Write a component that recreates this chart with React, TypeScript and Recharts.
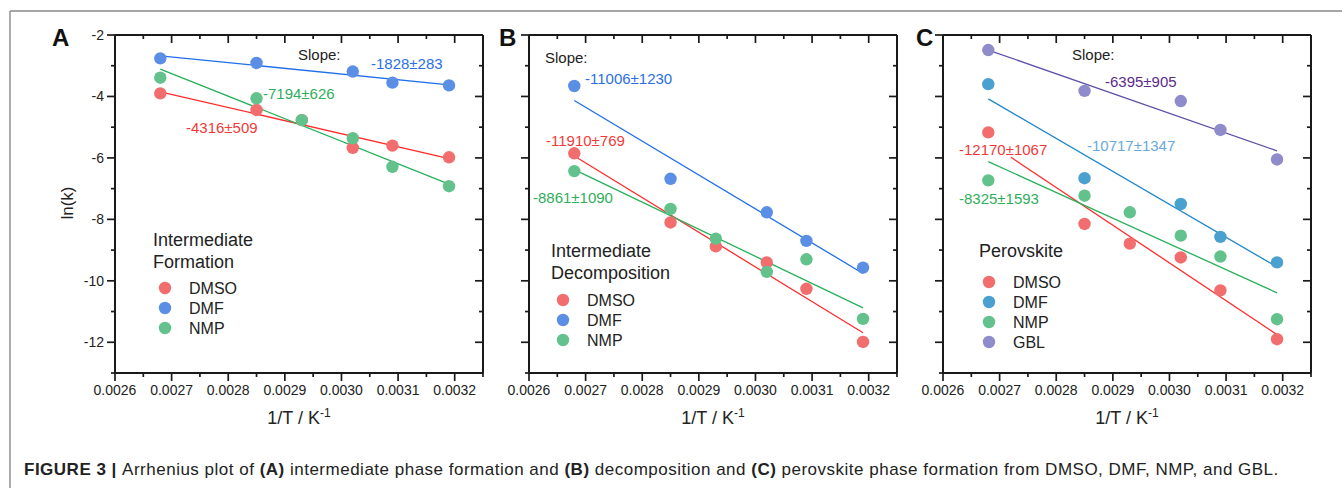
import React from "react";
import { ComposedChart, XAxis, YAxis, Line, Scatter } from "recharts";

// 1/T values (K^-1) shared by all panels
const INV_T = [0.00268, 0.00285, 0.00293, 0.00302, 0.00309, 0.00319];

// panel A: intermediate formation
const A_DMSO = [-3.9, -4.44, -4.77, -5.67, -5.6, -5.98];
const A_DMF = [-2.76, -2.91, null, -3.19, -3.55, -3.64];
const A_NMP = [-3.39, -4.06, -4.77, -5.36, -6.29, -6.92];
const A_FIT_X = [0.00268, 0.00319];
const A_DMSO_FIT = [-3.85, -6.02];
const A_DMF_FIT = [-2.68, -3.62];
const A_NMP_FIT = [-3.11, -6.85];

// panel B: intermediate decomposition
const B_DMSO = [-5.85, -8.1, -8.88, -9.4, -10.26, -11.99];
const B_DMF = [-3.66, -6.68, null, -7.77, -8.7, -9.57];
const B_NMP = [-6.43, -7.66, -8.63, -9.71, -9.3, -11.24];
const B_FIT_X = [0.00268, 0.00319];
const B_DMSO_FIT = [-5.94, -11.69];
const B_DMF_FIT = [-4.13, -9.76];
const B_NMP_FIT = [-6.38, -10.88];

// panel C: perovskite formation
const C_DMSO = [-5.17, -8.15, -8.79, -9.24, -10.31, -11.9];
const C_DMF = [-3.6, -6.66, null, -7.5, -8.57, -9.4];
const C_NMP = [-6.73, -7.23, -7.77, -8.53, -9.21, -11.25];
const C_GBL = [-2.49, -3.82, null, -4.15, -5.09, -6.05];
const C_FIT_X = [0.00268, 0.00319];
const C_DMSO_FIT_X = [0.00272, 0.00319];
const C_DMSO_FIT = [-5.98, -11.75];
const C_DMF_FIT = [-4.08, -9.55];
const C_NMP_FIT = [-6.12, -10.39];
const C_GBL_FIT = [-2.49, -5.77];

const X_TICKS = [
  0.0026, 0.00265, 0.0027, 0.00275, 0.0028, 0.00285, 0.0029, 0.00295, 0.003, 0.00305,
  0.0031, 0.00315, 0.0032, 0.00325,
];
const Y_TICKS = [-13, -12, -11, -10, -9, -8, -7, -6, -5, -4, -3, -2];
const X_DOMAIN = [0.0026, 0.00325];
const Y_DOMAIN = [-13, -2];

const FONT = "'Liberation Sans', Arial, Helvetica, sans-serif";
const AXIS = "#1a1a1a";

const RED_DOT = "#f26d6d";
const BLUE_DOT = "#5b8ee5";
const GREEN_DOT = "#63c28c";
const SKY_DOT = "#4aa0cf";
const PURPLE_DOT = "#908bcb";
const RED_LINE = "#ff2b2b";
const BLUE_LINE = "#1f6fe8";
const GREEN_LINE = "#27b05a";
const SKY_LINE = "#1e86cc";
const PURPLE_LINE = "#5e50aa";

function zip(xs: number[], ys: (number | null)[]) {
  return xs
    .map((x, i) => ({ x, y: ys[i] }))
    .filter((p) => p.y !== null && p.y !== undefined);
}

const isMajorX = (v: number) => Math.round(v * 1e5) % 10 === 0;
const isMajorY = (v: number) => Math.abs(v) % 2 === 0;

function BottomTick(props: any) {
  const { x, y, payload } = props;
  const major = isMajorX(payload.value);
  return (
    <g>
      <line x1={x} x2={x} y1={y} y2={y + (major ? 8 : 4)} stroke={AXIS} strokeWidth={1.7} />
      {major && (
        <text x={x} y={y + 22} textAnchor="middle" fontSize={14} fill="#222" fontFamily={FONT}>
          {payload.value.toFixed(4)}
        </text>
      )}
    </g>
  );
}

function TopTick(props: any) {
  const { x, y, payload } = props;
  const major = isMajorX(payload.value);
  return <line x1={x} x2={x} y1={y} y2={y + (major ? 8 : 4)} stroke={AXIS} strokeWidth={1.7} />;
}

function makeLeftTick(showLabels: boolean) {
  return function LeftTick(props: any) {
    const { x, y, payload } = props;
    const major = isMajorY(payload.value);
    return (
      <g>
        <line x1={x - (major ? 8 : 4)} x2={x} y1={y} y2={y} stroke={AXIS} strokeWidth={1.7} />
        {major && showLabels && (
          <text x={x - 11} y={y + 5} textAnchor="end" fontSize={14} fill="#222" fontFamily={FONT}>
            {payload.value}
          </text>
        )}
      </g>
    );
  };
}

function RightTick(props: any) {
  const { x, y, payload } = props;
  const major = isMajorY(payload.value);
  return <line x1={x - (major ? 8 : 4)} x2={x} y1={y} y2={y} stroke={AXIS} strokeWidth={1.7} />;
}

interface Series {
  name: string;
  dot: string;
  line: string;
  values: (number | null)[];
  fitX: number[];
  fitY: number[];
}

interface PanelProps {
  plotLeft: number;
  showYLabels: boolean;
  series: Series[];
}

function dotShape(color: string) {
  return (p: any) => <circle cx={p.cx} cy={p.cy} r={6.2} fill={color} />;
}

function Panel({ plotLeft, showYLabels, series }: PanelProps) {
  const axisLine = { stroke: AXIS, strokeWidth: 2 };
  return (
    <div style={{ position: "absolute", left: plotLeft - 60, top: 0 }}>
      <ComposedChart width={430} height={420} margin={{ top: 34, right: 1, bottom: 0, left: 0 }}>
        <XAxis
          xAxisId="b"
          type="number"
          dataKey="x"
          domain={X_DOMAIN}
          ticks={X_TICKS}
          interval={0}
          height={47}
          tickSize={0}
          tickMargin={0}
          tickLine={false}
          axisLine={axisLine}
          tick={BottomTick}
          allowDataOverflow
        />
        <XAxis
          xAxisId="t"
          orientation="top"
          type="number"
          dataKey="x"
          domain={X_DOMAIN}
          ticks={X_TICKS}
          interval={0}
          height={1}
          tickSize={0}
          tickMargin={0}
          tickLine={false}
          axisLine={axisLine}
          tick={TopTick}
          allowDataOverflow
        />
        <YAxis
          yAxisId="l"
          type="number"
          domain={Y_DOMAIN}
          ticks={Y_TICKS}
          interval={0}
          width={60}
          tickSize={0}
          tickMargin={0}
          tickLine={false}
          axisLine={axisLine}
          tick={makeLeftTick(showYLabels)}
          allowDataOverflow
        />
        <YAxis
          yAxisId="r"
          orientation="right"
          type="number"
          domain={Y_DOMAIN}
          ticks={Y_TICKS}
          interval={0}
          width={1}
          tickSize={0}
          tickMargin={0}
          tickLine={false}
          axisLine={axisLine}
          tick={RightTick}
          allowDataOverflow
        />
        {series.map((s) => (
          <Line
            key={"fit-" + s.name}
            xAxisId="b"
            yAxisId="l"
            data={zip(s.fitX, s.fitY)}
            dataKey="y"
            stroke={s.line}
            strokeWidth={1.3}
            dot={false}
            activeDot={false}
            isAnimationActive={false}
          />
        ))}
        {series.map((s) => (
          <Scatter
            key={"pts-" + s.name}
            xAxisId="b"
            yAxisId="l"
            data={zip(INV_T, s.values)}
            dataKey="y"
            fill={s.dot}
            shape={dotShape(s.dot)}
            isAnimationActive={false}
          />
        ))}
      </ComposedChart>
    </div>
  );
}

const SERIES_A: Series[] = [
  { name: "DMSO", dot: RED_DOT, line: RED_LINE, values: A_DMSO, fitX: A_FIT_X, fitY: A_DMSO_FIT },
  { name: "NMP", dot: GREEN_DOT, line: GREEN_LINE, values: A_NMP, fitX: A_FIT_X, fitY: A_NMP_FIT },
  { name: "DMF", dot: BLUE_DOT, line: BLUE_LINE, values: A_DMF, fitX: A_FIT_X, fitY: A_DMF_FIT },
];
const SERIES_B: Series[] = [
  { name: "DMSO", dot: RED_DOT, line: RED_LINE, values: B_DMSO, fitX: B_FIT_X, fitY: B_DMSO_FIT },
  { name: "NMP", dot: GREEN_DOT, line: GREEN_LINE, values: B_NMP, fitX: B_FIT_X, fitY: B_NMP_FIT },
  { name: "DMF", dot: BLUE_DOT, line: BLUE_LINE, values: B_DMF, fitX: B_FIT_X, fitY: B_DMF_FIT },
];
const SERIES_C: Series[] = [
  { name: "DMSO", dot: RED_DOT, line: RED_LINE, values: C_DMSO, fitX: C_DMSO_FIT_X, fitY: C_DMSO_FIT },
  { name: "NMP", dot: GREEN_DOT, line: GREEN_LINE, values: C_NMP, fitX: C_FIT_X, fitY: C_NMP_FIT },
  { name: "DMF", dot: SKY_DOT, line: SKY_LINE, values: C_DMF, fitX: C_FIT_X, fitY: C_DMF_FIT },
  { name: "GBL", dot: PURPLE_DOT, line: PURPLE_LINE, values: C_GBL, fitX: C_FIT_X, fitY: C_GBL_FIT },
];

const ANNOTATIONS = [
  { text: "Slope:", color: "#222", x: 298, y: 54 },
  { text: "-1828±283", color: "#2a6fe6", x: 371, y: 63 },
  { text: "-7194±626", color: "#2fae5c", x: 263, y: 93 },
  { text: "-4316±509", color: "#f03a3a", x: 186, y: 127 },
  { text: "Slope:", color: "#222", x: 545, y: 57 },
  { text: "-11006±1230", color: "#2a6fe6", x: 585, y: 78 },
  { text: "-11910±769", color: "#f03a3a", x: 546, y: 140 },
  { text: "-8861±1090", color: "#2fae5c", x: 533, y: 197 },
  { text: "Slope:", color: "#222", x: 1072, y: 54 },
  { text: "-6395±905", color: "#5b2a8e", x: 1105, y: 81 },
  { text: "-10717±1347", color: "#6aa8dc", x: 1087, y: 145 },
  { text: "-12170±1067", color: "#f03a3a", x: 959, y: 149 },
  { text: "-8325±1593", color: "#2fae5c", x: 959, y: 198 },
];

const LEGENDS = [
  {
    title: ["Intermediate", "Formation"],
    titleX: 153,
    titleY: 240,
    markerX: 165,
    textX: 189,
    firstY: 288,
    items: [
      { name: "DMSO", color: RED_DOT },
      { name: "DMF", color: BLUE_DOT },
      { name: "NMP", color: GREEN_DOT },
    ],
  },
  {
    title: ["Intermediate", "Decomposition"],
    titleX: 551,
    titleY: 251,
    markerX: 563,
    textX: 587,
    firstY: 300,
    items: [
      { name: "DMSO", color: RED_DOT },
      { name: "DMF", color: BLUE_DOT },
      { name: "NMP", color: GREEN_DOT },
    ],
  },
  {
    title: ["Perovskite"],
    titleX: 979,
    titleY: 251,
    markerX: 989,
    textX: 1013,
    firstY: 282,
    items: [
      { name: "DMSO", color: RED_DOT },
      { name: "DMF", color: SKY_DOT },
      { name: "NMP", color: GREEN_DOT },
      { name: "GBL", color: PURPLE_DOT },
    ],
  },
];

const PLOT_LEFTS = [115, 529, 943];
const PANEL_LETTERS = ["A", "B", "C"];
const LETTER_X = [52, 499, 916];

export default function App() {
  return (
    <div
      style={{
        position: "absolute",
        left: 0,
        top: 0,
        width: 1342,
        height: 488,
        background: "#fff",
        fontFamily: FONT,
        overflow: "hidden",
      }}
    >
      <Panel plotLeft={PLOT_LEFTS[0]} showYLabels series={SERIES_A} />
      <Panel plotLeft={PLOT_LEFTS[1]} showYLabels={false} series={SERIES_B} />
      <Panel plotLeft={PLOT_LEFTS[2]} showYLabels={false} series={SERIES_C} />
      <svg
        width={1342}
        height={488}
        style={{ position: "absolute", left: 0, top: 0, pointerEvents: "none" }}
        fontFamily={FONT}
      >
        <line x1={10} x2={1342} y1={11} y2={11} stroke="#888" strokeWidth={1.4} />
        <line x1={10} x2={10} y1={11} y2={488} stroke="#888" strokeWidth={1.4} />

        {PANEL_LETTERS.map((l, i) => (
          <text key={l} x={LETTER_X[i]} y={46} fontSize={24} fontWeight="bold" fill="#111">
            {l}
          </text>
        ))}

        {PLOT_LEFTS.map((pl, i) => (
          <text key={"xl" + i} x={pl + 184} y={424} fontSize={18} textAnchor="middle" fill="#222">
            1/T / K
            <tspan dy={-7} fontSize={12}>
              -1
            </tspan>
          </text>
        ))}
        <text
          x={67}
          y={203}
          fontSize={17}
          textAnchor="middle"
          dominantBaseline="central"
          transform="rotate(-90 67 203)"
          fill="#222"
        >
          ln(k)
        </text>

        {ANNOTATIONS.map((a, i) => (
          <text key={"an" + i} x={a.x} y={a.y} fontSize={15} dominantBaseline="central" fill={a.color}>
            {a.text}
          </text>
        ))}

        {LEGENDS.map((lg, i) => (
          <g key={"lg" + i}>
            {lg.title.map((t, j) => (
              <text
                key={t}
                x={lg.titleX}
                y={lg.titleY + j * 22}
                fontSize={18}
                dominantBaseline="central"
                fill="#222"
              >
                {t}
              </text>
            ))}
            {lg.items.map((it, j) => (
              <g key={it.name}>
                <circle cx={lg.markerX} cy={lg.firstY + j * 20} r={6.2} fill={it.color} />
                <text
                  x={lg.textX}
                  y={lg.firstY + j * 20}
                  fontSize={16}
                  dominantBaseline="central"
                  fill="#222"
                >
                  {it.name}
                </text>
              </g>
            ))}
          </g>
        ))}

        <text x={24} y={475} fontSize={17} letterSpacing={0.5} fill="#222">
          <tspan fontWeight="bold">FIGURE 3 | </tspan>
          <tspan>Arrhenius plot of </tspan>
          <tspan fontWeight="bold">(A)</tspan>
          <tspan> intermediate phase formation and </tspan>
          <tspan fontWeight="bold">(B)</tspan>
          <tspan> decomposition and </tspan>
          <tspan fontWeight="bold">(C)</tspan>
          <tspan> perovskite phase formation from DMSO, DMF, NMP, and GBL.</tspan>
        </text>
      </svg>
    </div>
  );
}
